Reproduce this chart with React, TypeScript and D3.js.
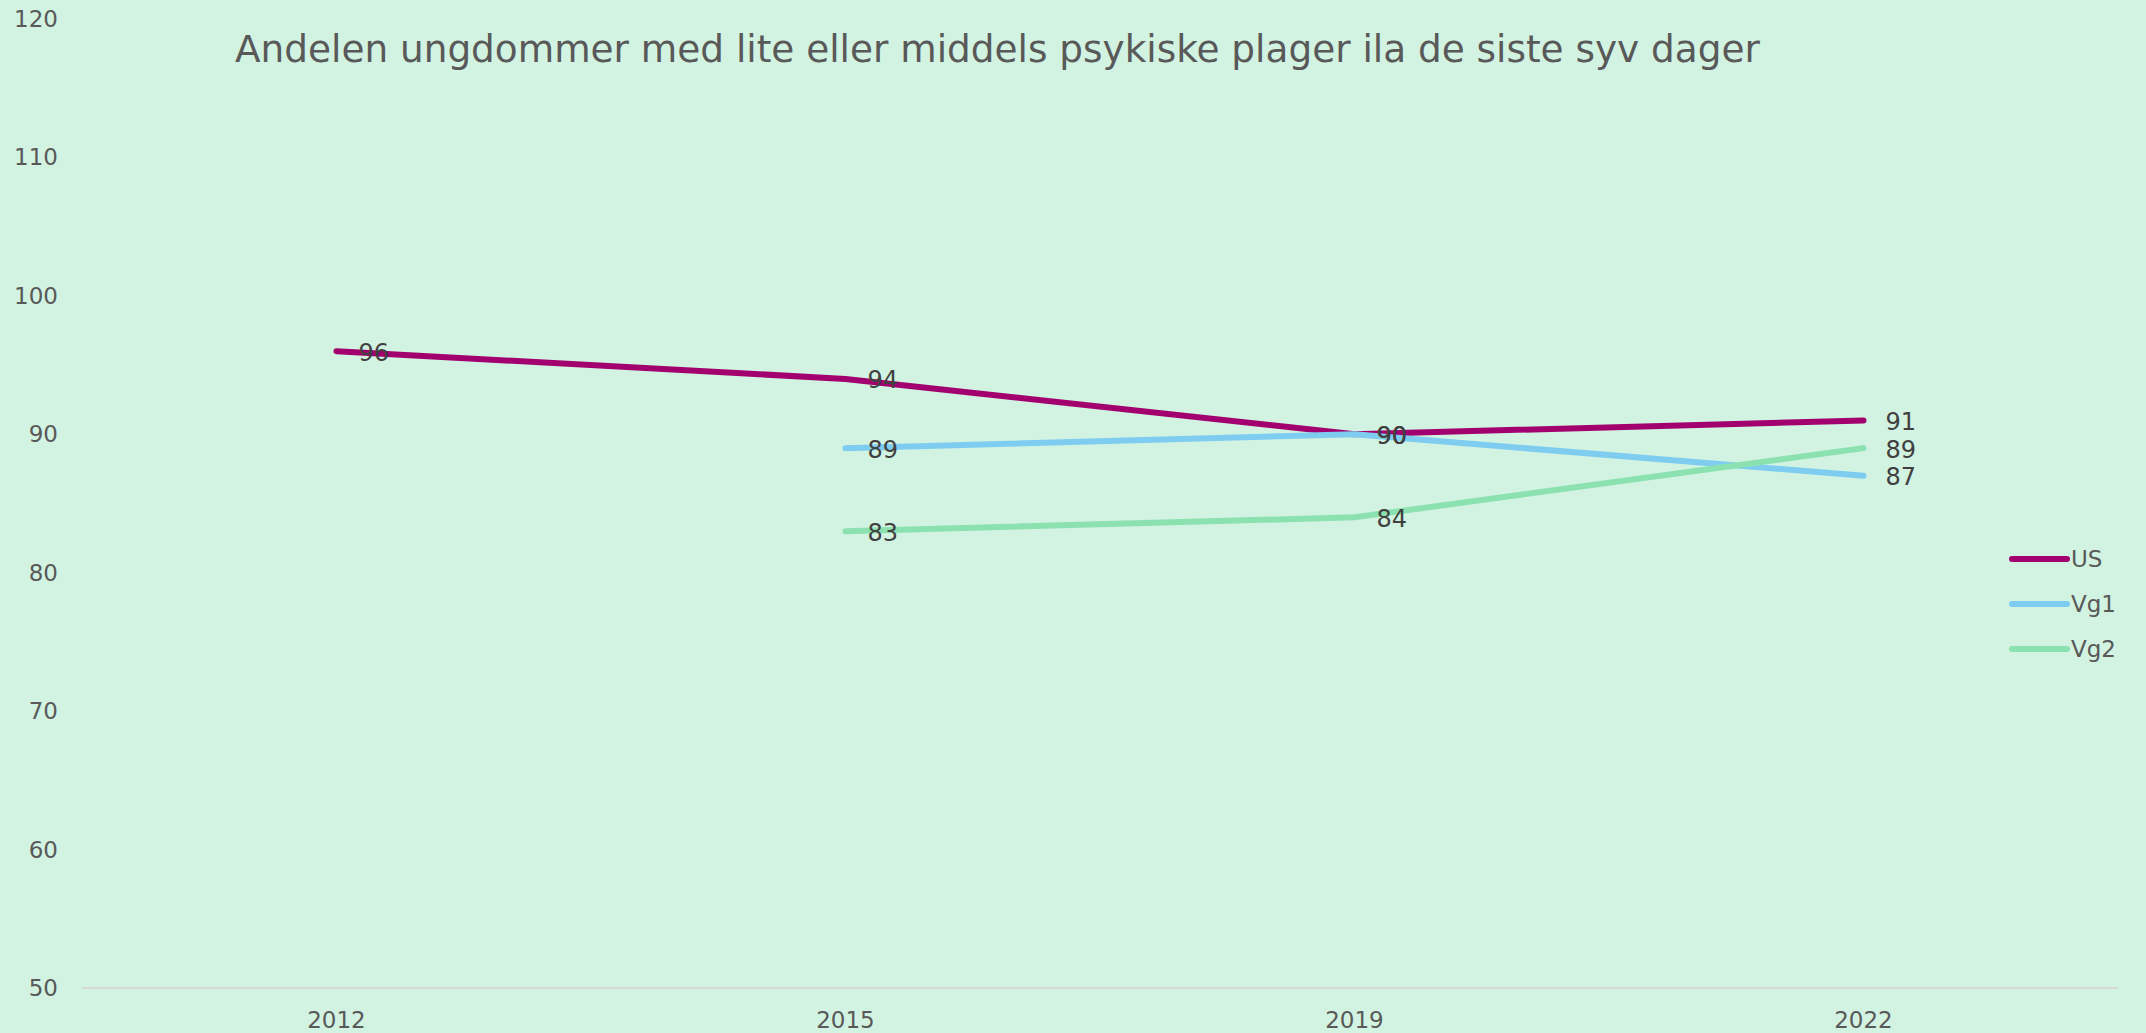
import React from 'react';
import * as d3 from 'd3';

const years = ['2012', '2015', '2019', '2022'];
const usValues = [96, 94, 90, 91];
const vg1Values = [null, 89, 90, 87];
const vg2Values = [null, 83, 84, 89];
const yTicks = [50, 60, 70, 80, 90, 100, 110, 120];

const seriesNames = ['US', 'Vg1', 'Vg2'];
const seriesColors = ['#A2006F', '#7ECDF0', '#8BE1AF'];

const title = 'Andelen ungdommer med lite eller middels psykiske plager ila de siste syv dager';

const W = 2146;
const H = 1033;
const font = '"DejaVu Sans", Verdana, sans-serif';

export default function App() {
  // plot area
  const left = 82, right = 2118, top = 19, bottom = 988;

  const x = d3.scaleBand().domain(years).range([left, right]).padding(0);
  const y = d3.scaleLinear().domain([50, 120]).range([bottom, top]);
  const cx = (yr: string) => (x(yr) as number) + x.bandwidth() / 2;

  const allSeries = [usValues, vg1Values, vg2Values];

  const line = d3.line<any>()
    .defined(d => d.v != null)
    .x(d => cx(d.year))
    .y(d => y(d.v));

  return (
    <svg width={W} height={H} style={{position: 'absolute', left: 0, top: 0, display: 'block'}}>
      <rect x={0} y={0} width={W} height={H} fill="#D2F3E1" />

      {/* title */}
      <text x={235} y={62} fontFamily={font} fontSize={37.4} fill="#595959">{title}</text>

      {/* y axis labels */}
      {yTicks.map(t => (
        <text key={t} x={58} y={y(t)} dy="0.35em" textAnchor="end"
          fontFamily={font} fontSize={23} fill="#595959">{t}</text>
      ))}

      {/* baseline */}
      <line x1={left} x2={right} y1={y(50)} y2={y(50)} stroke="#D9D9D9" strokeWidth={2} />

      {/* x labels */}
      {years.map(yr => (
        <text key={yr} x={cx(yr)} y={1020} dy="0.35em" textAnchor="middle"
          fontFamily={font} fontSize={23} fill="#595959">{yr}</text>
      ))}

      {/* lines */}
      {allSeries.map((vals, i) => {
        const pts = years.map((yr, j) => ({year: yr, v: vals[j]}));
        return (
          <path key={i} d={line(pts) || ''} fill="none" stroke={seriesColors[i]}
            strokeWidth={6} strokeLinecap="round" strokeLinejoin="round" />
        );
      })}

      {/* data labels */}
      {allSeries.map((vals, i) =>
        years.map((yr, j) => vals[j] == null ? null : (
          <text key={i + '-' + yr} x={cx(yr) + 22} y={y(vals[j] as number) + 1} dy="0.35em"
            fontFamily={font} fontSize={24} fill="#404040">{vals[j]}</text>
        ))
      )}

      {/* legend */}
      {seriesNames.map((n, i) => (
        <g key={n} transform={`translate(2012,${559 + i * 45})`}>
          <line x1={0} x2={55} y1={0} y2={0} stroke={seriesColors[i]} strokeWidth={6} strokeLinecap="round" />
          <text x={59} y={0} dy="0.35em" fontFamily={font} fontSize={23} fill="#595959">{n}</text>
        </g>
      ))}
    </svg>
  );
}
